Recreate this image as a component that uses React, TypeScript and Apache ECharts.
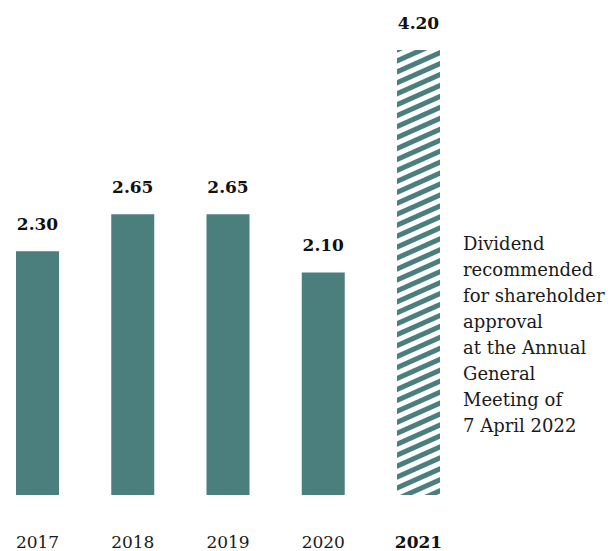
import React, { useEffect, useRef } from "react";
import * as echarts from "echarts";

const years = ["2017", "2018", "2019", "2020", "2021"];
const dividends = [2.3, 2.65, 2.65, 2.1, 4.2];
const proposedYear = "2021";
const noteLines = [
  "Dividend",
  "recommended",
  "for shareholder",
  "approval",
  "at the Annual",
  "General",
  "Meeting of",
  "7 April 2022",
];

const TEAL = "#4b7f7d";
const FONT = "'DejaVu Serif', 'Liberation Serif', serif";

export default function App() {
  const ref = useRef<HTMLDivElement>(null);
  useEffect(() => {
    if (!ref.current) return;
    const chart = echarts.init(ref.current, undefined, { renderer: "svg" });
    chart.setOption({
      animation: false,
      grid: { left: 37.5, width: 381, top: 50, bottom: 56 },
      xAxis: {
        type: "category",
        data: years,
        boundaryGap: false,
        axisLine: { show: false },
        axisTick: { show: false },
        axisLabel: {
          margin: 38,
          formatter: (v: string) => (v === proposedYear ? `{b|${v}}` : `{a|${v}}`),
          rich: {
            a: { fontFamily: FONT, fontSize: 17, color: "#1a1a1a" },
            b: { fontFamily: FONT, fontSize: 17, fontWeight: "bold", color: "#111" },
          },
        },
      },
      yAxis: {
        type: "value",
        min: 0,
        max: 4.2,
        show: false,
        splitLine: { show: false },
      },
      series: [
        {
          type: "bar",
          barWidth: 43,
          data: dividends.map((v, i) => ({
            value: v,
            itemStyle:
              years[i] === proposedYear
                ? {
                    color: TEAL,
                    decal: {
                      symbol: "rect",
                      color: "#ffffff",
                      dashArrayX: [1, 0],
                      dashArrayY: [4.5, 4.5],
                      rotation: -0.42,
                    },
                  }
                : { color: TEAL },
          })),
          label: {
            show: true,
            position: "top",
            distance: 19,
            fontFamily: FONT,
            fontSize: 17,
            fontWeight: "bold",
            color: "#111",
            formatter: (p: any) => Number(p.value).toFixed(2),
          },
        },
      ],
      graphic: [
        {
          type: "text",
          left: 463,
          top: 230,
          style: {
            text: noteLines.join("\n"),
            fontFamily: FONT,
            fontSize: 18,
            lineHeight: 26,
            fill: "#1a1a1a",
          },
        },
      ],
    });
    return () => chart.dispose();
  }, []);
  return (
    <div
      ref={ref}
      style={{ position: "fixed", left: 0, top: 0, width: 608, height: 551, background: "#fff" }}
    />
  );
}
